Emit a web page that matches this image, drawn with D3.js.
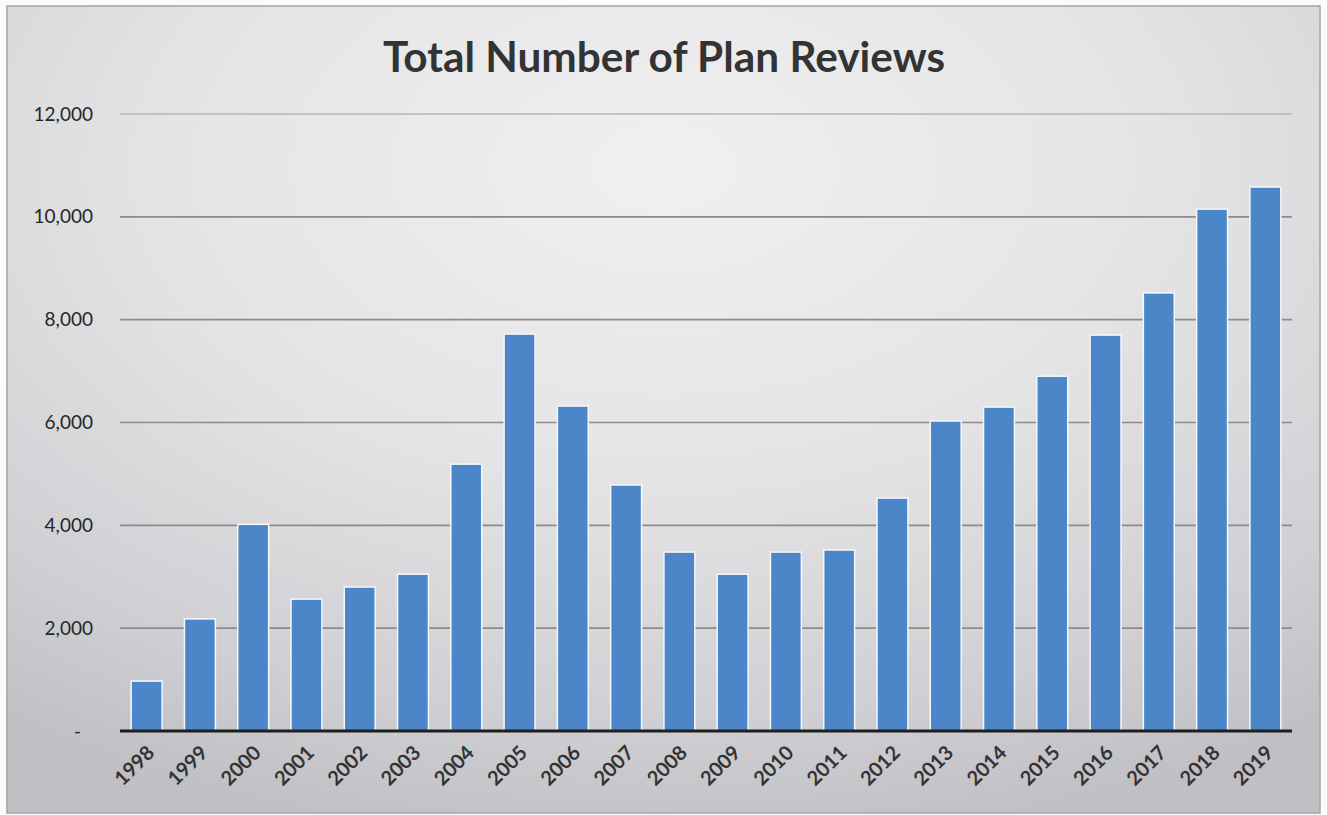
<!DOCTYPE html>
<html>
<head>
<meta charset="utf-8">
<script src="https://cdn.jsdelivr.net/npm/d3@7"></script>
<style>
  html, body { margin: 0; padding: 0; background: #fbfbfb; }
  svg { display: block; }
</style>
</head>
<body>
<svg id="chart" width="1327" height="815"></svg>
<script>
// ---- data ----
const years = ["1998","1999","2000","2001","2002","2003","2004","2005","2006","2007","2008",
               "2009","2010","2011","2012","2013","2014","2015","2016","2017","2018","2019"];
const reviews = [970, 2180, 4020, 2565, 2800, 3050, 5190, 7720, 6320, 4785, 3480,
                 3050, 3480, 3520, 4530, 6030, 6300, 6900, 7700, 8520, 10150, 10580];
const yTicks = [0, 2000, 4000, 6000, 8000, 10000, 12000];
const yTickLabels = ["-", "2,000", "4,000", "6,000", "8,000", "10,000", "12,000"];
const title = "Total Number of Plan Reviews";

// ---- layout ----
const svg = d3.select("#chart");
const plot = { left: 120, right: 1292, top: 114, bottom: 731 };

const defs = svg.append("defs");
const grad = defs.append("radialGradient").attr("id", "bg")
  .attr("cx", "50%").attr("cy", "20%").attr("r", "85%")
  .attr("fx", "50%").attr("fy", "20%");
grad.append("stop").attr("offset", "0%").attr("stop-color", "#f0f0f1");
grad.append("stop").attr("offset", "45%").attr("stop-color", "#e4e4e6");
grad.append("stop").attr("offset", "80%").attr("stop-color", "#d0d0d4");
grad.append("stop").attr("offset", "100%").attr("stop-color", "#c0bfc4");

// frame
svg.append("rect")
  .attr("x", 7).attr("y", 6).attr("width", 1313).attr("height", 807)
  .attr("fill", "url(#bg)")
  .attr("stroke", "#a4a4a8").attr("stroke-width", 1.5);

// scales
const x = d3.scaleBand().domain(years).range([plot.left, plot.right]).paddingInner(0.42).paddingOuter(0.21);
const y = d3.scaleLinear().domain([0, 12000]).range([plot.bottom, plot.top]);

// gridlines
svg.append("g").selectAll("line")
  .data(yTicks.filter(d => d > 0))
  .join("line")
  .attr("x1", plot.left).attr("x2", plot.right)
  .attr("y1", d => y(d)).attr("y2", d => y(d))
  .attr("stroke", d => d === 12000 ? "#b8b4b4" : "#8e8a8a")
  .attr("stroke-width", 1.6);

// y axis labels
const yAxis = d3.axisLeft(y).tickValues(yTicks)
  .tickFormat((d, i) => yTickLabels[i]).tickSize(0).tickPadding(0);
const yg = svg.append("g").attr("transform", `translate(93,0)`).call(yAxis);
yg.select(".domain").remove();
yg.selectAll("text")
  .attr("font-family", "Lato, 'Open Sans', sans-serif")
  .attr("font-size", 19)
  .attr("fill", "#262626")
  .attr("dx", d => d === 0 ? -12 : 0)
  .attr("dy", "0.32em");

// bars
svg.append("g").selectAll("rect")
  .data(reviews)
  .join("rect")
  .attr("x", (d, i) => x(years[i]))
  .attr("y", d => y(d))
  .attr("width", x.bandwidth())
  .attr("height", d => y(0) - y(d))
  .attr("fill", "#4a86c8")
  .attr("stroke", "#f4f7fb")
  .attr("stroke-width", 1.5);

// baseline
svg.append("line")
  .attr("x1", plot.left).attr("x2", plot.right)
  .attr("y1", y(0)).attr("y2", y(0))
  .attr("stroke", "#1e1e1e").attr("stroke-width", 3);

// x axis labels
const xAxis = d3.axisBottom(x).tickSize(0).tickPadding(0);
const xg = svg.append("g").attr("transform", `translate(0,${plot.bottom})`).call(xAxis);
xg.select(".domain").remove();
xg.selectAll("text")
  .attr("font-family", "Lato, 'Open Sans', sans-serif")
  .attr("font-size", 20)
  .attr("font-weight", 700)
  .attr("fill", "#333333")
  .attr("text-anchor", "end")
  .attr("dy", null)
  .attr("transform", "translate(9,23) rotate(-45)");

// title
svg.append("text")
  .attr("x", 664).attr("y", 72)
  .attr("text-anchor", "middle")
  .attr("font-family", "Lato, 'Open Sans', sans-serif")
  .attr("font-weight", 700)
  .attr("font-size", 42)
  .attr("fill", "#333333")
  .attr("textLength", 562)
  .attr("lengthAdjust", "spacingAndGlyphs")
  .text(title);
</script>
</body>
</html>
